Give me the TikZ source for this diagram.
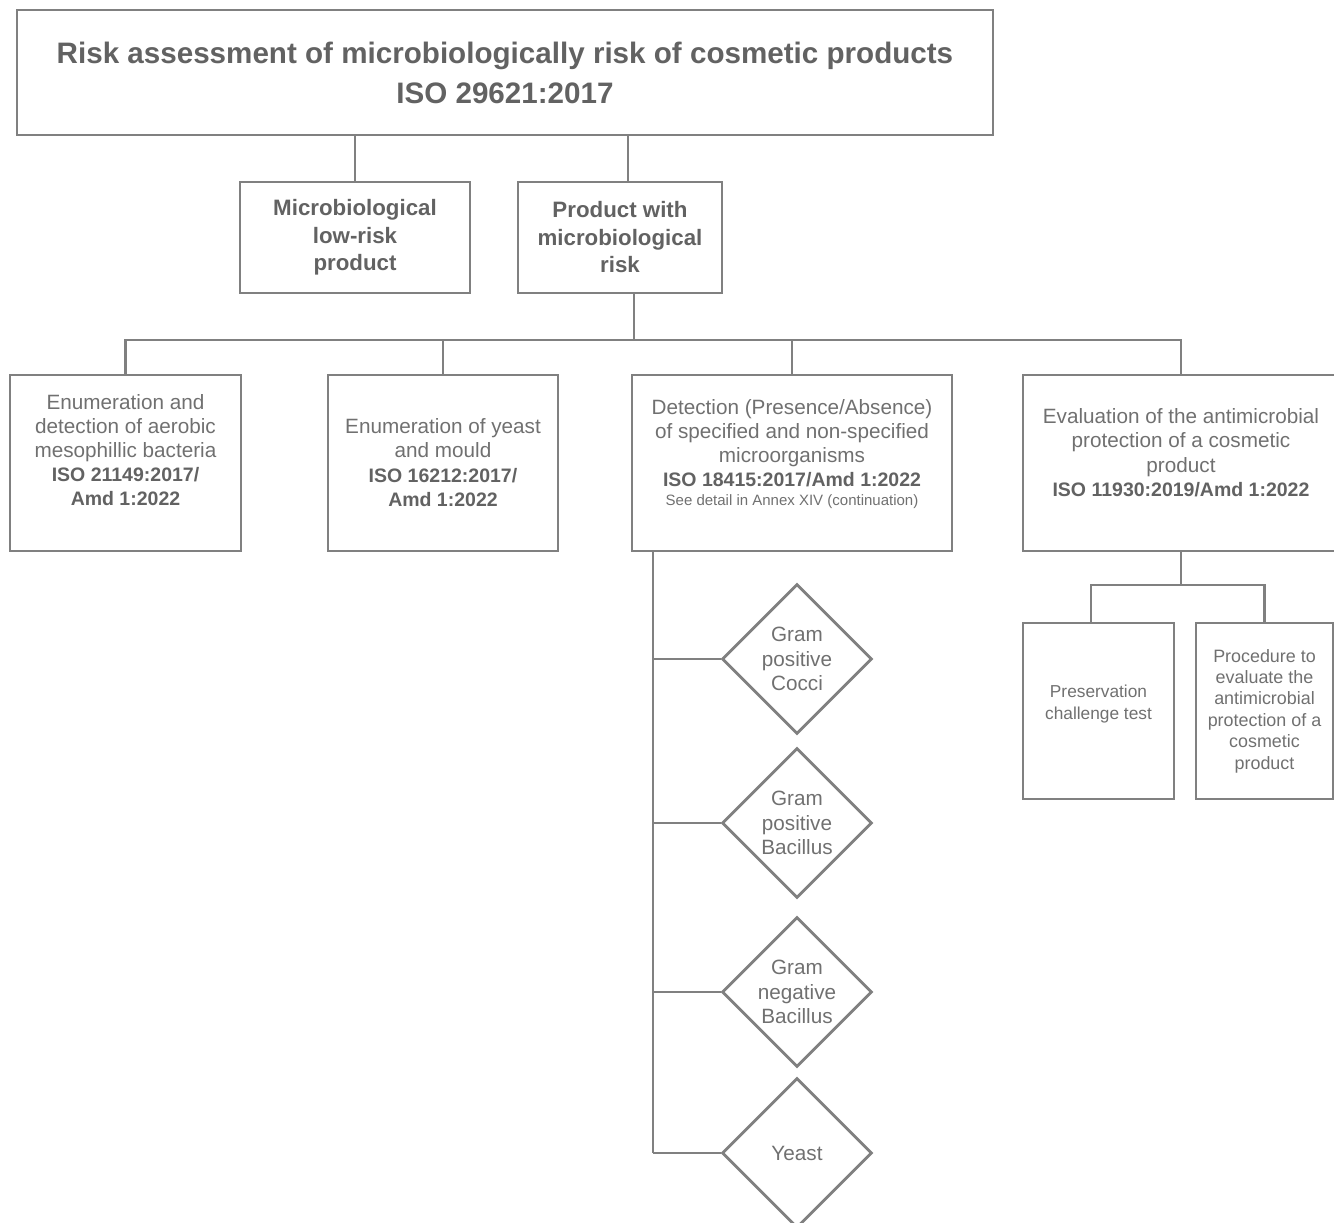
\documentclass[tikz,border=0pt]{standalone}
\usepackage{fontspec}
\setmainfont{Liberation Sans}
\usetikzlibrary{shapes.geometric}
\definecolor{linec}{HTML}{808080}
\definecolor{txtc}{HTML}{707070}
\definecolor{boldc}{HTML}{626262}
\newcommand\tdep[1]{\rule[-#1pt]{0pt}{0pt}}
\newcommand\titlef{\bfseries\fontsize{29.6}{40}\selectfont}
\newcommand\midf{\bfseries\fontsize{22.3}{27.5}\selectfont}
\newcommand\regf{\fontsize{20.7}{24.2}\selectfont}
\newcommand\isof{\bfseries\fontsize{19.5}{24.2}\selectfont\color{boldc}}
\newcommand\notef{\fontsize{15}{18}\selectfont}
\newcommand\smallboxf{\fontsize{17.3}{22}\selectfont}
\newcommand\procf{\fontsize{17.9}{21.4}\selectfont}
\begin{document}
\begin{tikzpicture}[x=1pt,y=-1pt,
  box/.style={draw=linec, line width=2.8pt, rectangle, inner sep=0pt, align=center, text=txtc, font=\regf},
  dia/.style={draw=linec, line width=2.8pt, diamond, aspect=1, minimum width=150pt, minimum height=150pt, inner sep=0pt, align=center, text=txtc, font=\regf},
  conn/.style={draw=linec, line width=2.8pt}]
\useasboundingbox (0,0) rectangle (1334,1223);

% top level
\node[box, minimum width=976pt, minimum height=125pt, font=\titlef, text=boldc] (top) at (505,72.5)
  {Risk assessment of microbiologically risk of cosmetic products\\ISO 29621:2017};
\node[box, minimum width=230pt, minimum height=111pt, font=\midf, text=boldc] (low) at (355,237.5)
  {Microbiological\\low-risk\\product};
\node[box, minimum width=204pt, minimum height=111pt, font=\midf, text=boldc] (prod) at (620,237.5)
  {Product with\\microbiological\\risk};

% methods
\node[box, minimum width=231pt, minimum height=176pt] (e1) at (125.5,463)
  {Enumeration and\\detection of aerobic\\mesophillic bacteria\\{\isof ISO 21149:2017/}\\{\isof Amd 1:2022}\tdep{26}};
\node[box, minimum width=230pt, minimum height=176pt] (e2) at (443,463)
  {Enumeration of yeast\\and mould\\{\isof ISO 16212:2017/}\\{\isof Amd 1:2022}\tdep{1}};
\node[box, minimum width=320pt, minimum height=176pt] (e3) at (792,463)
  {Detection (Presence/Absence)\\of specified and non-specified\\microorganisms\\{\isof ISO 18415:2017/Amd 1:2022}\\[-5.2pt]{\notef See detail in Annex XIV (continuation)}\tdep{21}};
\node[box, minimum width=316pt, minimum height=176pt] (e4) at (1181,463)
  {Evaluation of the antimicrobial\\protection of a cosmetic\\product\\{\isof ISO 11930:2019/Amd 1:2022}\tdep{21}};

% antimicrobial protection
\node[box, minimum width=151pt, minimum height=176pt, font=\smallboxf] (pres) at (1098.5,711)
  {Preservation\\challenge test\tdep{17}};
\node[box, minimum width=137pt, minimum height=176pt, font=\procf] (proc) at (1264.5,711)
  {Procedure to\\evaluate the\\antimicrobial\\protection of a\\cosmetic\\product};

% microorganisms
\node[dia] (d1) at (797,659) {Gram\\positive\\Cocci};
\node[dia] (d2) at (797,823) {Gram\\positive\\Bacillus};
\node[dia] (d3) at (797,992) {Gram\\negative\\Bacillus};
\node[dia] (d4) at (797,1153) {Yeast};

% connectors
\coordinate (bus) at (0,340);
\coordinate (ebus) at (0,585);
\coordinate (pt1) at ([xshift=8pt]prod.north);
\coordinate (pb) at ([xshift=14pt]prod.south);
\coordinate (pt3) at ([xshift=-7.5pt]pres.north);
\path (e3.south) ++(-139,0) coordinate (sp);

\draw[conn] (low.north |- top.south) -- (low.north);
\draw[conn] (pt1 |- top.south) -- (pt1);
\draw[conn] (pb) -- (pb |- bus);
\draw[conn] (e1.north) -- (e1.north |- bus) -- (e4.north |- bus) -- (e4.north);
\draw[conn] (e2.north |- bus) -- (e2.north);
\draw[conn] (e3.north |- bus) -- (e3.north);

\draw[conn] (sp) -- (sp |- d4.west);
\draw[conn] (sp |- d1.west) -- (d1.west);
\draw[conn] (sp |- d2.west) -- (d2.west);
\draw[conn] (sp |- d3.west) -- (d3.west);
\draw[conn] (sp |- d4.west) -- (d4.west);

\draw[conn] (e4.south) -- (e4.south |- ebus);
\draw[conn] (pt3) -- (pt3 |- ebus) -- (proc.north |- ebus) -- (proc.north);
\end{tikzpicture}
\end{document}
